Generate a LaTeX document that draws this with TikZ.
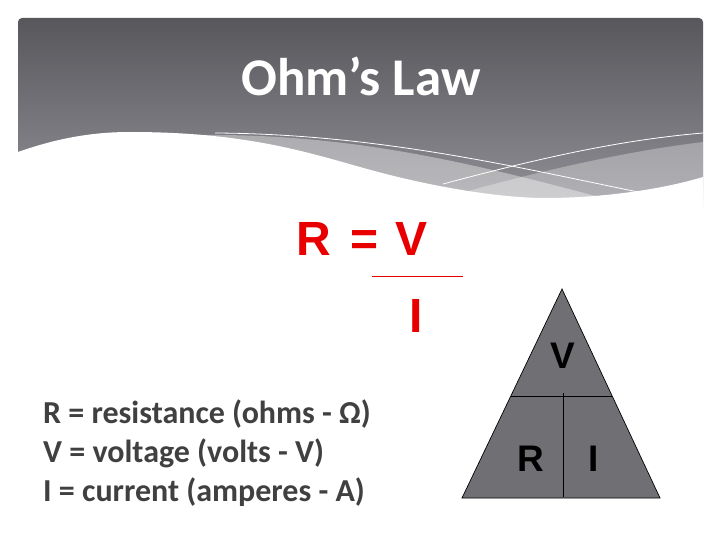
\documentclass[tikz,border=0pt]{standalone}
\usepackage{fontspec}
\setmainfont{Carlito}
\newfontfamily\formfont{Liberation Sans}
\newfontfamily\trifont{Liberation Sans}
\usetikzlibrary{calc}
\definecolor{hdtop}{RGB}{88,87,92}
\definecolor{hdbot}{RGB}{146,145,151}
\definecolor{bodytxt}{RGB}{64,64,64}
\definecolor{formred}{RGB}{232,0,0}
\definecolor{trigray}{RGB}{112,112,116}
\tikzset{
  deftext/.style={anchor=base west, inner sep=0pt, text=bodytxt, font=\bfseries\fontsize{32}{36}\selectfont},
  formtext/.style={anchor=base, inner sep=0pt, text=formred, font=\formfont\bfseries\fontsize{48}{54}\selectfont},
  trilabel/.style={anchor=center, inner sep=0pt, text=black, font=\trifont\bfseries\fontsize{37}{40}\selectfont},
  wline/.style={draw=white, line width=0.8pt}
}
\begin{document}
\begin{tikzpicture}[x=1pt,y=-1pt]
\useasboundingbox (0,0) rectangle (720,540);
\fill[white] (0,0) rectangle (720,540);
% header
\shade[top color=hdtop, bottom color=hdbot, rounded corners=4pt] (18,210) -- (18,18) -- (703,18) -- (703,210) [sharp corners] -- cycle;
% bands
\fill[white, opacity=0.38] (205,135) .. controls (350,134) and (470,162) .. (610,200) -- (610,215) -- (205,215) -- cycle;
\fill[white, opacity=0.30] (703,142) .. controls (620,152) and (520,175) .. (420,205) -- (420,215) -- (703,215) -- cycle;
\draw[wline] (215,133) .. controls (380,134) and (520,168) .. (643,193);
\draw[wline] (443,184) .. controls (540,158) and (620,140) .. (703,133);
% white wave
\fill[white] (18,152) .. controls (55,139) and (90,132) .. (130,132)
  .. controls (240,132) and (300,150) .. (360,167)
  .. controls (430,187) and (500,198) .. (545,198)
  .. controls (600,198) and (660,190) .. (703,177) -- (704,222) -- (17,222) -- cycle;
% title
\node[anchor=base, inner sep=0pt, text=white, font=\bfseries\fontsize{53}{58}\selectfont] (title) at (361,96) {Ohm’s Law};
% formula
\node[formtext] (fr1) at (314,255) {R};
\node[formtext] (feq) at (365,255) {=};
\node[formtext] (fv) at (412,255) {V};
\coordinate (fl) at (372,276);
\coordinate (frt) at (463,276);
\draw[formred, line width=0.6pt] (fl) -- (frt);
\node[formtext] (iden) at (416,332) {I};
% definitions
\node[deftext] (d1) at (43,423) {R = resistance (ohms - Ω)};
\node[deftext] (d2) at (43,462) {V = voltage (volts - V)};
\node[deftext] (d3) at (43,501) {I = current (amperes - A)};
% triangle
\coordinate (apex) at (562,289);
\coordinate (bl) at (462,498);
\coordinate (br) at (660,498);
\fill[trigray] (apex) -- (bl) -- (br) -- cycle;
\draw[black, line width=0.7pt] (apex) -- (bl) -- (br) -- cycle;
\coordinate (hl) at ($(bl)!0.488!(apex)$);
\coordinate (hr) at ($(br)!0.488!(apex)$);
\draw[black, line width=0.7pt] (hl) -- (hr);
\coordinate (vt) at (563,393);
\coordinate (vb) at (563,497);
\draw[black, line width=0.7pt] (vt) -- (vb);
\node[trilabel] (tv) at (563,356) {V};
\node[trilabel] (tr) at (531,459) {R};
\node[trilabel] (ti) at (594,459) {I};
\end{tikzpicture}
\end{document}
